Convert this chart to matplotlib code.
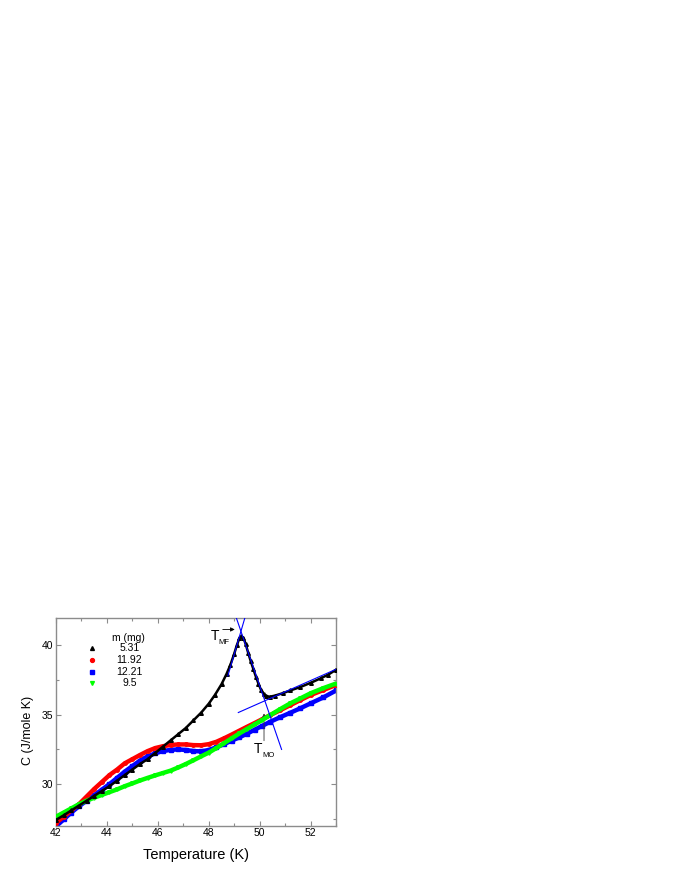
import matplotlib
matplotlib.use("Agg")
import matplotlib.pyplot as plt
from matplotlib.ticker import MultipleLocator

plt.rcParams["font.family"] = ["Liberation Sans", "DejaVu Sans"]

# sample masses (mg) shown in the legend
masses = ["5.31", "11.92", "12.21", "9.5"]

# C(T), one pair of lists per sample
t_531 = [42.0, 42.3, 42.6, 42.9, 43.2, 43.5, 43.8, 44.1, 44.4, 44.7, 45.0, 45.3,
         45.6, 45.9, 46.2, 46.5, 46.8, 47.1, 47.4, 47.7, 48.0, 48.25, 48.5, 48.7,
         48.85, 49.0, 49.1, 49.2, 49.28, 49.36, 49.45, 49.55, 49.65, 49.75, 49.85,
         49.95, 50.05, 50.15, 50.25, 50.4, 50.6, 50.9, 51.2, 51.6, 52.0, 52.4,
         52.7, 53.0]
c_531 = [27.42, 27.75, 28.1, 28.45, 28.8, 29.15, 29.5, 29.85, 30.25, 30.65, 31.05, 31.45,
         31.8, 32.25, 32.7, 33.15, 33.6, 34.05, 34.6, 35.15, 35.8, 36.45, 37.2, 37.95,
         38.6, 39.4, 40.0, 40.5, 40.67, 40.55, 40.1, 39.45, 38.85, 38.3, 37.75,
         37.25, 36.8, 36.5, 36.35, 36.3, 36.38, 36.55, 36.75, 37.0, 37.3, 37.63,
         37.9, 38.25]

t_1192 = [42.0, 42.3, 42.6, 42.9, 43.2, 43.5, 43.8, 44.1, 44.4, 44.7, 45.0, 45.3,
          45.6, 45.9, 46.2, 46.5, 46.8, 47.1, 47.4, 47.7, 48.0, 48.3, 48.6, 48.9,
          49.2, 49.5, 49.8, 50.1, 50.4, 50.8, 51.2, 51.6, 52.0, 52.5, 53.0]
c_1192 = [27.2, 27.65, 28.1, 28.55, 29.1, 29.65, 30.15, 30.65, 31.05, 31.5, 31.8, 32.1,
          32.38, 32.6, 32.73, 32.82, 32.86, 32.86, 32.81, 32.8, 32.88, 33.05, 33.3, 33.57,
          33.85, 34.13, 34.4, 34.68, 34.96, 35.32, 35.69, 36.06, 36.42, 36.78, 37.15]

t_1221 = [42.0, 42.3, 42.6, 42.9, 43.2, 43.5, 43.8, 44.1, 44.4, 44.7, 45.0, 45.3,
          45.6, 45.9, 46.2, 46.5, 46.8, 47.1, 47.4, 47.7, 48.0, 48.3, 48.6, 48.9,
          49.2, 49.5, 49.8, 50.1, 50.4, 50.8, 51.2, 51.6, 52.0, 52.5, 53.0]
c_1221 = [26.95, 27.45, 27.95, 28.4, 28.8, 29.2, 29.6, 30.0, 30.45, 30.9, 31.3, 31.7,
          32.0, 32.22, 32.38, 32.47, 32.5, 32.46, 32.38, 32.36, 32.46, 32.65, 32.88, 33.13,
          33.37, 33.63, 33.92, 34.2, 34.48, 34.82, 35.14, 35.47, 35.82, 36.25, 36.75]

t_95 = [42.0, 42.3, 42.6, 42.9, 43.2, 43.5, 43.8, 44.1, 44.4, 44.7, 45.0, 45.3,
        45.6, 45.9, 46.2, 46.5, 46.8, 47.1, 47.4, 47.7, 48.0, 48.3, 48.6, 48.9,
        49.2, 49.5, 49.8, 50.1, 50.4, 50.8, 51.2, 51.6, 52.0, 52.5, 53.0]
c_95 = [27.65, 27.95, 28.25, 28.55, 28.8, 29.02, 29.22, 29.42, 29.62, 29.85, 30.05, 30.26,
        30.45, 30.63, 30.8, 30.97, 31.2, 31.45, 31.72, 32.0, 32.27, 32.6, 32.95, 33.3,
        33.65, 33.97, 34.3, 34.62, 34.96, 35.4, 35.82, 36.18, 36.55, 36.92, 37.25]

# construction lines used to pick T_MF and T_MO
rise_t, rise_c = [48.75, 49.42], [37.8, 42.0]
fall_t, fall_c = [49.08, 50.86], [42.0, 32.5]
base_t, base_c = [49.16, 53.0], [35.16, 38.28]

fig = plt.figure(figsize=(6.8, 8.8), dpi=100)
ax = fig.add_axes([0.0824, 0.0617, 0.4118, 0.2364])

ax.plot(t_1221, c_1221, color="#0000ff", lw=3.2, marker="s", ms=2.5, zorder=2)
ax.plot(t_1192, c_1192, color="#ff0000", lw=3.2, marker="o", ms=2.5, zorder=3)
ax.plot(t_95, c_95, color="#00ff00", lw=3.2, marker="v", ms=2.5, zorder=4)
ax.plot(t_531, c_531, color="black", lw=1.8, marker="^", ms=2.6, zorder=5)

for lt, lc in [(rise_t, rise_c), (fall_t, fall_c), (base_t, base_c)]:
    ax.plot(lt, lc, color="#0000ff", lw=0.8, zorder=6)

# T_MF and T_MO labels with arrows
ax.text(48.06, 40.36, "T", fontsize=10, ha="left", va="baseline")
ax.text(48.38, 40.1, "MF", fontsize=5.5, ha="left", va="baseline")
ax.annotate("", xy=(49.13, 41.15), xytext=(48.44, 41.15),
            arrowprops=dict(arrowstyle="-|>", color="black", lw=0.6, mutation_scale=6))
ax.text(49.77, 32.23, "T", fontsize=10, ha="left", va="baseline")
ax.text(50.09, 31.97, "MO", fontsize=5.5, ha="left", va="baseline")
ax.annotate("", xy=(50.17, 35.3), xytext=(50.17, 32.93),
            arrowprops=dict(arrowstyle="-|>", color="#333333", lw=0.6, mutation_scale=6))

# legend, drawn by hand like the original
ax.text(0.257, 0.902, "m (mg)", transform=ax.transAxes, fontsize=7.5, ha="center", va="center")
styles = [("black", "^"), ("#ff0000", "o"), ("#0000ff", "s"), ("#00ff00", "v")]
rows = [0.854, 0.797, 0.739, 0.686]
for (col, mk), lab, yy in zip(styles, masses, rows):
    ax.plot([0.129], [yy], transform=ax.transAxes, color=col, marker=mk, ms=2.8, ls="none")
    ax.text(0.262, yy, lab, transform=ax.transAxes, fontsize=7.5, ha="center", va="center")

ax.set_xlim(42, 53)
ax.set_ylim(27, 42)
ax.xaxis.set_major_locator(MultipleLocator(2))
ax.xaxis.set_minor_locator(MultipleLocator(1))
ax.yaxis.set_major_locator(MultipleLocator(5))
ax.yaxis.set_minor_locator(MultipleLocator(2.5))
ax.tick_params(which="both", direction="in", top=True, right=True,
               color="#8c8c8c", labelsize=7.5, pad=2)
ax.tick_params(which="major", length=3.5, width=0.8)
ax.tick_params(which="minor", length=2.5, width=0.8)
for sp in ax.spines.values():
    sp.set_color("#8c8c8c")
    sp.set_linewidth(1.0)

ax.set_xlabel("Temperature (K)", fontsize=10.5)
ax.set_ylabel("C (J/mole K)", fontsize=9)
ax.xaxis.set_label_coords(0.5, -0.107)
ax.xaxis.label.set_va("top")
ax.yaxis.set_label_coords(-0.08, 0.46)

fig.savefig("out.png", dpi=100)
